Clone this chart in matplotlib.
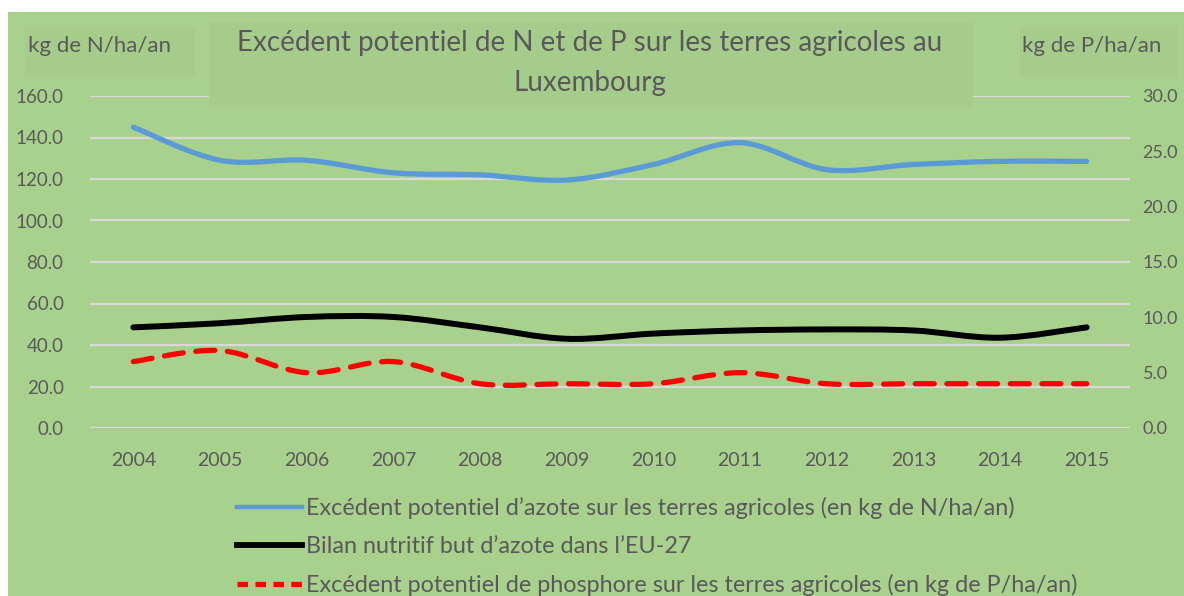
import numpy as np
import matplotlib.pyplot as plt
from matplotlib.path import Path
from matplotlib.patches import PathPatch, Rectangle
from matplotlib.lines import Line2D

## data
years = ['2004', '2005', '2006', '2007', '2008', '2009', '2010', '2011', '2012', '2013', '2014', '2015']
azoteSurplus = [145, 129, 129, 123, 122, 119.5, 127, 137.5, 124.5, 127, 128.5, 128.5]
azoteEU27 = [48.5, 50.5, 53.5, 53.5, 48.5, 43, 45.5, 47, 47.5, 47, 43.5, 48.5]
phosphoreSurplus = [6.0, 7.0, 5.0, 6.0, 4.0, 4.0, 4.0, 5.0, 4.0, 4.0, 4.0, 4.0]

labelN = "Excédent potentiel d’azote sur les terres agricoles (en kg de N/ha/an)"
labelEU = "Bilan nutritif but d’azote dans l’EU-27"
labelP = "Excédent potentiel de phosphore sur les terres agricoles (en kg de P/ha/an)"
titleTxt = "Excédent potentiel de N et de P sur les terres agricoles au\nLuxembourg"

## style
bgColor = '#a9d18e'
boxColor = '#a6cc8b'
txtColor = '#595959'
plt.rcParams['font.family'] = ['Lato', 'DejaVu Sans']


def smooth_path(xs, ys):
    # excel-like smoothed line: catmull-rom segments as cubic beziers
    pts = np.column_stack([xs, ys]).astype(float)
    n = len(pts)
    verts = [pts[0]]
    codes = [Path.MOVETO]
    for i in range(n - 1):
        p0 = pts[i - 1] if i > 0 else pts[i]
        p1 = pts[i]
        p2 = pts[i + 1]
        p3 = pts[i + 2] if i + 2 < n else pts[i + 1]
        c1 = p1 + (p2 - p0) / 6.0
        c2 = p2 - (p3 - p1) / 6.0
        verts += [c1, c2, p2]
        codes += [Path.CURVE4] * 3
    return Path(verts, codes)


fig = plt.figure(figsize=(11.84, 5.96), dpi=100)
fig.patch.set_facecolor('white')
fig.patches.append(Rectangle((8 / 1184, 0), 1, (596 - 12) / 596, transform=fig.transFigure,
                             facecolor=bgColor, edgecolor='none', zorder=-10))

ax = fig.add_axes([90 / 1184, 168 / 596, 1040 / 1184, 332 / 596])
ax.set_facecolor('none')
ax2 = ax.twinx()

x = np.arange(len(years))

ax.add_patch(PathPatch(smooth_path(x, azoteSurplus), facecolor='none', edgecolor='#5b9bd5',
                       lw=3.8, capstyle='round', zorder=3))
ax.add_patch(PathPatch(smooth_path(x, azoteEU27), facecolor='none', edgecolor='black',
                       lw=4.3, capstyle='round', zorder=3))
ax2.add_patch(PathPatch(smooth_path(x, phosphoreSurplus), facecolor='none', edgecolor='#ff0000',
                        lw=3.8, linestyle=(0, (3.6, 2.4)), capstyle='round', zorder=3))

ax.set_xlim(-0.5, len(years) - 0.5)
ax.set_ylim(0, 160)
ax2.set_ylim(0, 30)
ax.set_yticks(np.arange(0, 161, 20))
ax.set_yticklabels([f"{v:.1f}" for v in np.arange(0, 161, 20)])
ax2.set_yticks(np.arange(0, 31, 5))
ax2.set_yticklabels([f"{v:.1f}" for v in np.arange(0, 31, 5)])
ax.set_xticks(x)
ax.set_xticklabels(years)

ax.grid(axis='y', color='#d9d9d9', lw=1.6)
ax.set_axisbelow(True)
for a in (ax, ax2):
    for s in a.spines.values():
        s.set_visible(False)
ax.tick_params(axis='y', length=0, pad=19, labelsize=13.5, labelcolor=txtColor)
ax.tick_params(axis='x', length=0, pad=17, labelsize=14, labelcolor=txtColor)
ax2.tick_params(axis='y', length=0, pad=9, labelsize=13, labelcolor=txtColor)

# title and axis unit labels in their boxes
fig.patches.append(Rectangle((209 / 1184, (596 - 107) / 596), 764 / 1184, 85 / 596,
                             transform=fig.transFigure, facecolor=boxColor, edgecolor='none', zorder=1))
fig.text(590 / 1184, (596 - 63) / 596, titleTxt, ha='center', va='center', fontsize=20,
         color=txtColor, linespacing=1.65, zorder=2)
fig.patches.append(Rectangle((25 / 1184, (596 - 77) / 596), 170 / 1184, 50 / 596,
                             transform=fig.transFigure, facecolor=boxColor, edgecolor='none', zorder=1))
fig.text(100 / 1184, (596 - 46) / 596, "kg de N/ha/an", ha='center', va='center', fontsize=16,
         color=txtColor, zorder=2)
fig.patches.append(Rectangle((1020 / 1184, (596 - 77) / 596), 158 / 1184, 50 / 596,
                             transform=fig.transFigure, facecolor=boxColor, edgecolor='none', zorder=1))
fig.text(1092 / 1184, (596 - 46) / 596, "kg de P/ha/an", ha='center', va='center', fontsize=16,
         color=txtColor, zorder=2)

# legend below the plot
handles = [Line2D([], [], color='#5b9bd5', lw=3.2),
           Line2D([], [], color='black', lw=4.2),
           Line2D([], [], color='#ff0000', lw=3.8, linestyle=(0, (2.0, 1.4)))]
leg = fig.legend(handles, [labelN, labelEU, labelP], loc='upper left',
                 bbox_to_anchor=(228 / 1184, (596 - 488) / 596), frameon=False,
                 fontsize=16.8, handlelength=2.75, handletextpad=0.2, labelspacing=0.72,
                 borderaxespad=0)
for t in leg.get_texts():
    t.set_color(txtColor)

fig.savefig("out.png", dpi=100, facecolor=fig.get_facecolor())
